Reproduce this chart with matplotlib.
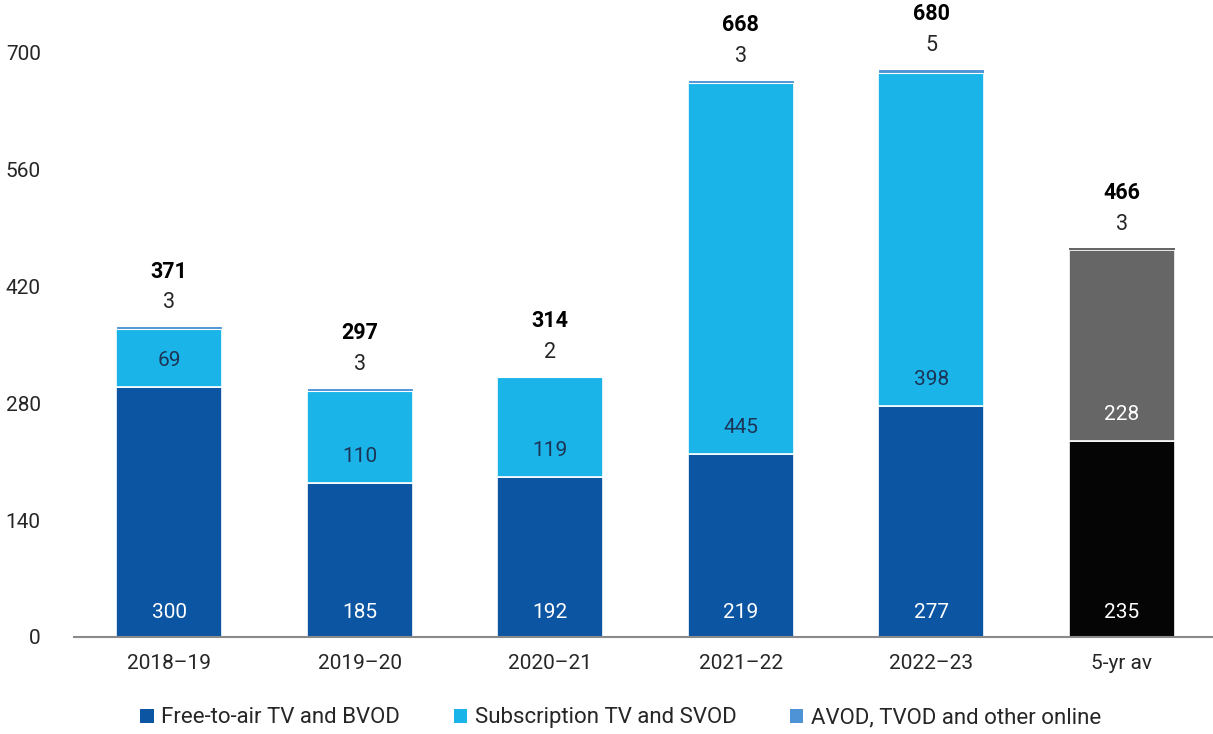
import matplotlib
matplotlib.use("Agg")
import matplotlib.pyplot as plt
import numpy as np

categories = ["2018–19", "2019–20", "2020–21", "2021–22", "2022–23", "5-yr av"]
free_to_air = [300, 185, 192, 219, 277, 235]
subscription = [69, 110, 119, 445, 398, 228]
avod_other = [3, 3, 2, 3, 5, 3]
totals = [371, 297, 314, 668, 680, 466]
yticks = [0, 140, 280, 420, 560, 700]
series_names = ["Free-to-air TV and BVOD", "Subscription TV and SVOD", "AVOD, TVOD and other online"]

plt.rcParams['font.family'] = ['Roboto', 'DejaVu Sans']

c_fta = "#0b55a3"
c_sub = "#1bb4e9"
c_avod = "#4d93d6"
c_avg_bot = "#050505"
c_avg_top = "#666666"
txt = "#262626"

fig = plt.figure(figsize=(12.13, 7.34), dpi=100)
ax = fig.add_axes([74/1213, (734-637)/734, 1 - 74/1213, 637/734])

x = np.arange(len(categories))
w = 0.556
n = len(categories)
bot_colors = [c_fta]*(n-1) + [c_avg_bot]
mid_colors = [c_sub]*(n-1) + [c_avg_top]
top_colors = [c_avod]*(n-1) + [c_avg_top]
top_lw = [0.8]*(n-1) + [0]

fta = np.array(free_to_air)
sub = np.array(subscription)
avd = np.array(avod_other)

ax.bar(x, fta, w, color=bot_colors, edgecolor="white", linewidth=1.2, zorder=2)
ax.bar(x, sub, w, bottom=fta, color=mid_colors, edgecolor="white", linewidth=1.2, zorder=2)
ax.bar(x, avd, w, bottom=fta+sub, color=top_colors, edgecolor="white", linewidth=top_lw, zorder=3)

# legend proxies
for name, col in zip(series_names, [c_fta, c_sub, c_avod]):
    ax.bar([0], [0], 0, color=col, label=name)

for i in range(n):
    ax.annotate(str(free_to_air[i]), (x[i], 0), xytext=(0, 18), textcoords="offset points",
                ha="center", va="center", color="white", fontsize=15)
    sub_col = "white" if i == n-1 else "#1b3556"
    ax.annotate(str(subscription[i]), (x[i], fta[i]), xytext=(0, 19), textcoords="offset points",
                ha="center", va="center", color=sub_col, fontsize=15)
    top = fta[i] + sub[i] + avd[i]
    ax.annotate(str(avod_other[i]), (x[i], top), xytext=(0, 17), textcoords="offset points",
                ha="center", va="center", color=txt, fontsize=15.5)
    ax.annotate(str(totals[i]), (x[i], top), xytext=(0, 39.5), textcoords="offset points",
                ha="center", va="center", color="black", fontsize=15.5, fontweight="bold")

ax.set_xlim(-0.5, 5.48)
ax.set_ylim(0, 637/0.835)
ax.set_yticks(yticks)
ax.set_xticks(x)
ax.set_xticklabels(categories)
ax.tick_params(axis="both", length=0, labelsize=15, colors=txt)
ax.tick_params(axis="y", pad=24)
ax.tick_params(axis="x", pad=12)
for s in ["top", "right", "left"]:
    ax.spines[s].set_visible(False)
ax.spines["bottom"].set_color("#8a8a8a")
ax.spines["bottom"].set_linewidth(1.5)
for lbl in ax.get_yticklabels():
    lbl.set_horizontalalignment("right")

ax.legend(loc="center", bbox_to_anchor=(0.48, -0.127), ncol=3, frameon=False,
          fontsize=16, handlelength=0.6, handleheight=0.6, handletextpad=0.35,
          columnspacing=2.4, labelcolor=txt)

fig.savefig("out.png", dpi=100)
